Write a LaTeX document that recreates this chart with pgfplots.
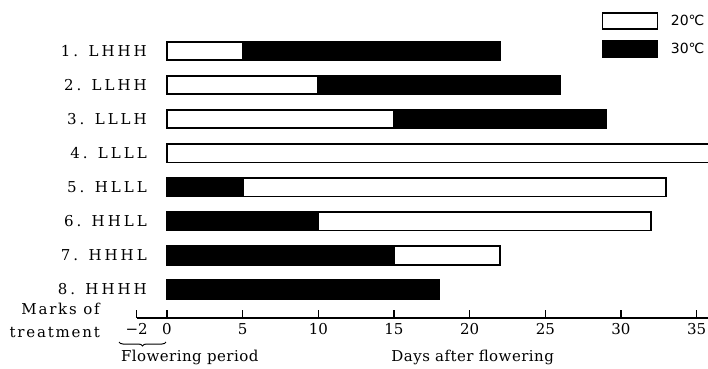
\documentclass[border=0pt]{standalone}
\usepackage{fontspec}
\setmainfont{DejaVu Serif}
\newfontfamily\dejavu{DejaVu Sans}
\newfontfamily\spacedA[LetterSpace=20]{DejaVu Serif}
\newfontfamily\spacedB[LetterSpace=12]{DejaVu Serif}
\newfontfamily\spacedC[LetterSpace=3]{DejaVu Serif}
\usepackage{pgfplots}
\pgfplotsset{compat=1.18}
\usetikzlibrary{decorations.pathreplacing}

\begin{document}
\begin{tikzpicture}[x=1pt,y=1pt]
\useasboundingbox (0,0) rectangle (708,368);
\begin{axis}[
  at={(136.7pt,50.3pt)}, anchor=south west,
  scale only axis, width=571.3pt, height=300.8pt,
  xmin=-2, xmax=35.75, ymin=0.172, ymax=9,
  xbar stacked, bar width=18.5pt,
  axis x line*=bottom, axis y line*=left,
  y axis line style={draw=none},
  x axis line style={line width=1.7pt},
  xtick={-2,0,5,10,15,20,25,30,35},
  xticklabels={−2,0,5,10,15,20,25,30,35},
  xtick align=inside, major tick length=8pt,
  x tick style={black, line width=1.4pt},
  ytick={1,2,3,4,5,6,7,8},
  yticklabels={8. HHHH,7. HHHL,6. HHLL,5. HLLL,4. LLLL,3. LLLH,2. LLHH,1. LHHH},
  yticklabel style={anchor=east, inner sep=0pt, xshift=10.3pt, font=\spacedA\fontsize{15}{17}\selectfont},
  y tick style={draw=none},
  xticklabel style={font=\fontsize{15}{17}\selectfont, yshift=-2pt},
  /pgf/number format/assume math mode=true,
  legend style={at={(axis description cs:0.8139,1.0173)}, anchor=north west,
    draw=none, fill=none, inner sep=0pt, row sep=10.5pt,
    nodes={inner sep=0pt, font=\dejavu\fontsize{14}{16}\selectfont}},
]
\addlegendimage{legend image code/.code={\draw[black, fill=white, line width=1.6pt] (0pt,-8pt) rectangle (55pt,8pt); \path (68pt,0pt);}}
\addlegendentry{20℃}
\addlegendimage{legend image code/.code={\draw[black, fill=black, line width=1.6pt] (0pt,-8pt) rectangle (55pt,8pt); \path (68pt,0pt);}}
\addlegendentry{30℃}
\addplot[fill=black, draw=black, line width=1.8pt] coordinates {(0,8) (0,7) (0,6) (0,5) (5,4) (10,3) (15,2) (18,1)};
\addplot[fill=white, draw=black, line width=1.8pt] coordinates {(5,8) (10,7) (15,6) (36,5) (28,4) (22,3) (7,2) (0,1)};
\addplot[fill=black, draw=black, line width=1.8pt] coordinates {(17,8) (16,7) (14,6) (0,5) (0,4) (0,3) (0,2) (0,1)};
\end{axis}
\node[anchor=east, inner sep=0pt, font=\spacedB\fontsize{15}{17}\selectfont] at (100,59) {Marks of};
\node[anchor=east, inner sep=0pt, font=\spacedB\fontsize{15}{17}\selectfont] at (100,36) {treatment};
\node[inner sep=0pt, font=\spacedC\fontsize{15}{17}\selectfont] at (189.7,11) {Flowering period};
\node[inner sep=0pt, font=\spacedC\fontsize{15}{17}\selectfont] at (472.7,11) {Days after flowering};
\draw[decorate, decoration={brace, mirror, amplitude=4pt}, line width=1pt] (119,26) -- (166,26);
\end{tikzpicture}
\end{document}
